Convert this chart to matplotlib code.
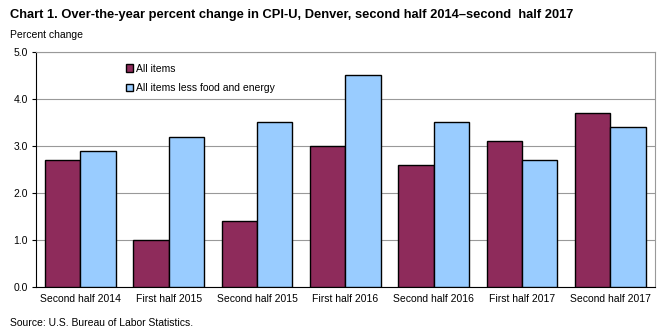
import numpy as np
import matplotlib.pyplot as plt

plt.rcParams['font.family'] = ['Liberation Sans', 'DejaVu Sans']

# data
periods = ['Second half 2014', 'First half 2015', 'Second half 2015', 'First half 2016',
           'Second half 2016', 'First half 2017', 'Second half 2017']
all_items = [2.7, 1.0, 1.4, 3.0, 2.6, 3.1, 3.7]
core = [2.9, 3.2, 3.5, 4.5, 3.5, 2.7, 3.4]

fig = plt.figure(figsize=(6.7, 3.33), dpi=100)
ax = fig.add_axes([0.054, 0.138, 0.923, 0.706])

x = np.arange(len(periods))
w = 0.4
ax.bar(x - w / 2, all_items, w, color='#8E2B5B', edgecolor='black', linewidth=1.0,
       label='All items', zorder=3)
ax.bar(x + w / 2, core, w, color='#99CCFF', edgecolor='black', linewidth=1.0,
       label='All items less food and energy', zorder=3)

ax.set_xlim(-0.5, len(periods) - 0.5)
ax.set_ylim(0, 5)
ax.set_yticks(np.arange(0, 5.1, 1.0))
ax.set_yticklabels([f'{v:.1f}' for v in np.arange(0, 5.1, 1.0)], fontsize=7.5)
ax.set_xticks(x)
ax.set_xticklabels(periods, fontsize=7.5)
ax.tick_params(axis='x', length=0, pad=5)
ax.tick_params(axis='y', length=3, pad=3)
ax.grid(axis='y', color='#999999', linewidth=0.8, zorder=0)

for s in ['top', 'right']:
    ax.spines[s].set_color('#999999')
ax.spines['left'].set_color('black')
ax.spines['bottom'].set_color('black')

ax.legend(loc='upper left', bbox_to_anchor=(0.13, 0.99), frameon=False, fontsize=7.5,
          handlelength=0.7, handleheight=0.7, handletextpad=0.3, labelspacing=0.9)

fig.text(0.015, 0.955, 'Chart 1. Over-the-year percent change in CPI-U, Denver, second half 2014\u2013second  half 2017',
         fontsize=9.3, fontweight='bold', va='center')
fig.text(0.015, 0.895, 'Percent change', fontsize=7.5, va='center')
fig.text(0.015, 0.03, 'Source: U.S. Bureau of Labor Statistics.', fontsize=7.5, va='center')

fig.savefig('out.png', dpi=100)
